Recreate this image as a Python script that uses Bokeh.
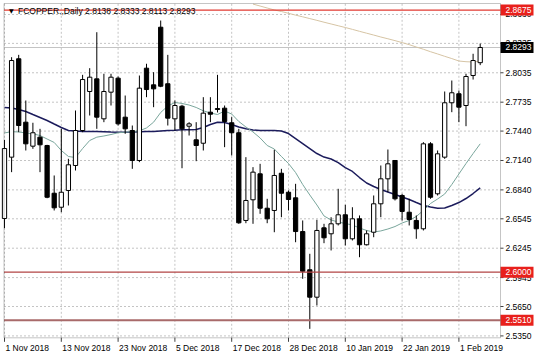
import numpy as np
from bokeh.plotting import figure
from bokeh.models import BoxAnnotation, Range1d, ColumnDataSource
from bokeh.core.properties import value
from bokeh.embed import file_html
from bokeh.resources import INLINE

# ---------------- data ----------------
dates = [
    "2018-11-01", "2018-11-02", "2018-11-05", "2018-11-06", "2018-11-07", "2018-11-08", "2018-11-09", "2018-11-12",
    "2018-11-13", "2018-11-14", "2018-11-15", "2018-11-16", "2018-11-19", "2018-11-20", "2018-11-21", "2018-11-22",
    "2018-11-23", "2018-11-26", "2018-11-27", "2018-11-28", "2018-11-29", "2018-11-30", "2018-12-03", "2018-12-04",
    "2018-12-05", "2018-12-06", "2018-12-07", "2018-12-10", "2018-12-11", "2018-12-12", "2018-12-13", "2018-12-14",
    "2018-12-17", "2018-12-18", "2018-12-19", "2018-12-20", "2018-12-21", "2018-12-24", "2018-12-26", "2018-12-27",
    "2018-12-28", "2018-12-31", "2019-01-02", "2019-01-03", "2019-01-04", "2019-01-07", "2019-01-08", "2019-01-09",
    "2019-01-10", "2019-01-11", "2019-01-14", "2019-01-15", "2019-01-16", "2019-01-17", "2019-01-18", "2019-01-21",
    "2019-01-22", "2019-01-23", "2019-01-24", "2019-01-25", "2019-01-28", "2019-01-29", "2019-01-30", "2019-01-31",
    "2019-02-01", "2019-02-04", "2019-02-05", "2019-02-06",
]
opens = [
    2.6548, 2.7174, 2.8178, 2.7531, 2.7286, 2.7378, 2.7293, 2.6806, 2.6663, 2.6834, 2.7089, 2.7446, 2.7844, 2.7973,
    2.7565, 2.7837, 2.7980, 2.7582, 2.7446, 2.7140, 2.8082, 2.7912, 2.8500, 2.7923, 2.7565, 2.7694, 2.7490, 2.7351,
    2.7316, 2.7633, 2.7670, 2.7674, 2.7525, 2.7423, 2.6528, 2.6739, 2.7004, 2.6653, 2.6630, 2.7010, 2.6816, 2.6759,
    2.6415, 2.6025, 2.5745, 2.6453, 2.6392, 2.6494, 2.6586, 2.6341, 2.6545, 2.6280, 2.6408, 2.6698, 2.6953, 2.7140,
    2.6783, 2.6612, 2.6528, 2.6443, 2.7310, 2.6800, 2.7174, 2.7729, 2.7821, 2.7701, 2.8007, 2.8138,
]
highs = [
    2.7350, 2.8194, 2.8218, 2.7752, 2.7525, 2.7463, 2.7300, 2.6987, 2.7463, 2.7157, 2.7650, 2.8014, 2.8082, 2.8449,
    2.8025, 2.8025, 2.7997, 2.7803, 2.7497, 2.8007, 2.8127, 2.8041, 2.8568, 2.8218, 2.7752, 2.7708, 2.7531, 2.7531,
    2.7786, 2.7786, 2.8014, 2.7701, 2.7582, 2.7463, 2.7174, 2.7072, 2.7106, 2.6749, 2.7249, 2.7055, 2.6834, 2.6902,
    2.6528, 2.6188, 2.6535, 2.6494, 2.6561, 2.6851, 2.6688, 2.6663, 2.6579, 2.6426, 2.6783, 2.7089, 2.7252, 2.7145,
    2.6800, 2.6749, 2.6579, 2.7327, 2.7327, 2.7242, 2.7844, 2.7956, 2.7854, 2.8025, 2.8229, 2.8333,
]
lows = [
    2.6450, 2.7021, 2.7429, 2.7242, 2.7259, 2.7021, 2.6755, 2.6630, 2.6612, 2.6681, 2.7038, 2.7429, 2.7599, 2.7463,
    2.7531, 2.7701, 2.7497, 2.7412, 2.7055, 2.7123, 2.7786, 2.7684, 2.7888, 2.7497, 2.7446, 2.7061, 2.7395, 2.7133,
    2.7242, 2.7531, 2.7630, 2.7276, 2.7191, 2.6494, 2.6500, 2.6494, 2.6596, 2.6500, 2.6408, 2.6561, 2.6630, 2.6306,
    2.5933, 2.5422, 2.5660, 2.6296, 2.6222, 2.6477, 2.6273, 2.6324, 2.6153, 2.6273, 2.6357, 2.6561, 2.6816, 2.6732,
    2.6528, 2.6477, 2.6341, 2.6426, 2.6749, 2.6783, 2.7157, 2.7633, 2.7531, 2.7490, 2.7966, 2.8113,
]
closes = [
    2.7262, 2.8160, 2.7497, 2.7310, 2.7423, 2.7300, 2.6765, 2.6657, 2.6816, 2.7096, 2.7446, 2.7966, 2.7990, 2.7582,
    2.7844, 2.7990, 2.7514, 2.7463, 2.7140, 2.7878, 2.7864, 2.7871, 2.7898, 2.7572, 2.7701, 2.7463, 2.7514, 2.7293,
    2.7623, 2.7612, 2.7660, 2.7538, 2.7423, 2.6504, 2.6732, 2.7021, 2.6653, 2.6545, 2.6987, 2.6806, 2.6742, 2.6415,
    2.6010, 2.5745, 2.6426, 2.6351, 2.6494, 2.6586, 2.6341, 2.6545, 2.6280, 2.6392, 2.6698, 2.6953, 2.7106, 2.6749,
    2.6620, 2.6538, 2.6443, 2.7310, 2.6765, 2.7208, 2.7729, 2.7831, 2.7684, 2.7997, 2.8160, 2.8293,
]
ma_fast = [
    2.7421, 2.7434, 2.7431, 2.7421, 2.7412, 2.7395, 2.7359, 2.7324, 2.7242, 2.7181, 2.7170, 2.7262, 2.7344, 2.7378,
    2.7390, 2.7405, 2.7423, 2.7429, 2.7434, 2.7443, 2.7472, 2.7531, 2.7630, 2.7696, 2.7732, 2.7722, 2.7706, 2.7681,
    2.7647, 2.7625, 2.7609, 2.7645, 2.7614, 2.7538, 2.7482, 2.7431, 2.7370, 2.7293, 2.7257, 2.7181, 2.7109, 2.7017,
    2.6895, 2.6788, 2.6686, 2.6574, 2.6533, 2.6512, 2.6497, 2.6482, 2.6451, 2.6426, 2.6410, 2.6421, 2.6441, 2.6466,
    2.6502, 2.6528, 2.6569, 2.6630, 2.6701, 2.6747, 2.6798, 2.6895, 2.7002, 2.7109, 2.7211, 2.7310,
]
ma_slow = [
    2.7681, 2.7676, 2.7660, 2.7640, 2.7609, 2.7579, 2.7548, 2.7512, 2.7477, 2.7446, 2.7441, 2.7436, 2.7436, 2.7436,
    2.7434, 2.7431, 2.7429, 2.7429, 2.7431, 2.7434, 2.7436, 2.7436, 2.7441, 2.7446, 2.7449, 2.7453, 2.7454, 2.7456,
    2.7477, 2.7507, 2.7531, 2.7528, 2.7507, 2.7482, 2.7463, 2.7451, 2.7446, 2.7446, 2.7446, 2.7441, 2.7415, 2.7364,
    2.7313, 2.7262, 2.7211, 2.7175, 2.7155, 2.7119, 2.7068, 2.7028, 2.6966, 2.6910, 2.6875, 2.6844, 2.6818, 2.6793,
    2.6767, 2.6742, 2.6711, 2.6681, 2.6665, 2.6653, 2.6655, 2.6681, 2.6711, 2.6752, 2.6803, 2.6861,
]
nan = float("nan")
ma_long = [nan] * 35 + [
    2.8736, 2.8716, 2.8696, 2.8676, 2.8660, 2.8642, 2.8623, 2.8606, 2.8588, 2.8570, 2.8551,
    2.8533, 2.8515, 2.8497, 2.8478, 2.8458, 2.8439, 2.8420, 2.8400, 2.8382, 2.8363, 2.8343, 2.8322, 2.8298, 2.8275,
    2.8250, 2.8227, 2.8203, 2.8180, 2.8155, 2.8148, 2.8145, 2.8155,
]
price_ticks = [2.5350, 2.5650, 2.5945, 2.6245, 2.6545, 2.6840, 2.7140, 2.7440, 2.7735, 2.8035, 2.8335, 2.8630]
date_tick_dates = ["2018-11-01", "2018-11-13", "2018-11-23", "2018-12-05", "2018-12-17",
                   "2018-12-28", "2019-01-10", "2019-01-22", "2019-02-01"]
date_tick_labels = ["1 Nov 2018", "13 Nov 2018", "23 Nov 2018", "5 Dec 2018", "17 Dec 2018",
                    "28 Dec 2018", "10 Jan 2019", "22 Jan 2019", "1 Feb 2019"]
red_levels = [2.8675, 2.6000, 2.5510]
last_price = 2.8293
title_text = "FCOPPER.,Daily  2.8138 2.8333 2.8113 2.8293"

# ---------------- layout constants (pixels) ----------------
W, H = 536, 358
PX = 7.1          # pixels per bar
PY = 980.0        # pixels per price unit
X0_PX = 4.0       # pixel x of first bar
REF_P, REF_Y = 2.6245, 247.7   # a price and its pixel row
CHART_L, CHART_R, CHART_T, CHART_B = 3.5, 500.0, 3.0, 337.3

def dx(px):
    return px / PX

def dy(px):
    return px / PY

x_start = dx(-X0_PX)
x_end = dx(W - X0_PX)
y_end = REF_P + dy(REF_Y)
y_start = REF_P - dy(H - REF_Y)
xl, xr = dx(CHART_L - X0_PX), dx(CHART_R - X0_PX)
yt, yb = REF_P + dy(REF_Y - CHART_T), REF_P - dy(CHART_B - REF_Y)

FONT = value("Liberation Sans")
FS = value("8.5px")
AX = "#404040"

n = len(dates)
x = np.arange(n)
o = np.array(opens); h = np.array(highs); l = np.array(lows); c = np.array(closes)
up = c >= o
tick_idx = [dates.index(d) for d in date_tick_dates]

p = figure(width=W, height=H, output_backend="svg", toolbar_location=None,
           x_range=Range1d(x_start, x_end), y_range=Range1d(y_start, y_end),
           x_axis_location=None, y_axis_location=None,
           min_border_left=0, min_border_right=0, min_border_top=0, min_border_bottom=0,
           background_fill_color="white", border_fill_color="white")
p.outline_line_color = None
p.xgrid.visible = False
p.ygrid.visible = False

# grid (dashed)
p.segment(x0=xl, x1=xr, y0=price_ticks, y1=price_ticks, line_color="#c4c4c4",
          line_width=1, line_dash="2 2")
p.segment(x0=tick_idx, x1=tick_idx, y0=yb, y1=yt, line_color="#c4c4c4",
          line_width=1, line_dash="2 2")

# bid line
p.segment(x0=xl, x1=xr, y0=last_price, y1=last_price, line_color="#c4c4c4", line_width=1)

# moving averages
p.line(x, ma_long, line_color="#d6c4a4", line_width=1)
p.line(x, ma_slow, line_color="#1c1c5c", line_width=1.5)
p.line(x, ma_fast, line_color="#7aa69c", line_width=1)

# candles
src = ColumnDataSource(dict(x=x, o=o, h=h, l=l, c=c,
                            top=np.maximum(o, c), bottom=np.minimum(o, c),
                            fill=np.where(up, "white", "black")))
p.segment(x0="x", y0="l", x1="x", y1="h", source=src, line_color="black", line_width=1)
p.vbar(x="x", width=0.6, top="top", bottom="bottom", source=src,
       fill_color="fill", line_color="black", line_width=1)

# horizontal levels
level_colors = ["#e23a32", "#b24444", "#a86a6a"]
level_widths = [1.2, 1.2, 2]
p.segment(x0=xl, x1=xr, y0=red_levels, y1=red_levels, line_color=level_colors,
          line_width=level_widths)

# chart frame
p.add_layout(BoxAnnotation(left=xl, right=xr, bottom=yb, top=yt, fill_alpha=0,
                           line_color=AX, line_width=1))

# right price scale
p.segment(x0=xr, x1=xr + dx(3), y0=price_ticks, y1=price_ticks, line_color=AX, line_width=1)
p.text(x=xr + dx(5), y=price_ticks, text=[f"{v:.4f}" for v in price_ticks],
       text_font=FONT, text_font_size=FS, text_color="black",
       text_align="left", text_baseline="middle")

# bottom date scale
p.segment(x0=tick_idx, x1=tick_idx, y0=yb, y1=yb - dy(4), line_color=AX, line_width=1)
p.text(x=[t + dx(1) for t in tick_idx], y=yb - dy(10), text=date_tick_labels,
       text_font=FONT, text_font_size=FS, text_color="black",
       text_align="left", text_baseline="middle")

# price tags
tag_levels = red_levels + [last_price]
tag_colors = ["#e8201c"] * 3 + ["black"]
p.rect(x=xr + dx(16.5), y=tag_levels, width=33, height=11, width_units="screen",
       height_units="screen", fill_color=tag_colors, line_color=None)
p.text(x=xr + dx(5), y=tag_levels, text=[f"{v:.4f}" for v in tag_levels],
       text_font=FONT, text_font_size=FS, text_color="white",
       text_align="left", text_baseline="middle")

# title
p.text(x=xl + dx(5), y=yt - dy(7), text=["\u25bc"], text_font=value("DejaVu Sans"),
       text_font_size=value("6px"), text_color="black", text_align="left", text_baseline="middle")
p.text(x=xl + dx(14), y=yt - dy(7), text=[title_text], text_font=FONT, text_font_size=FS,
       text_color="black", text_align="left", text_baseline="middle")

open("out.html", "w").write(file_html(p, INLINE))
